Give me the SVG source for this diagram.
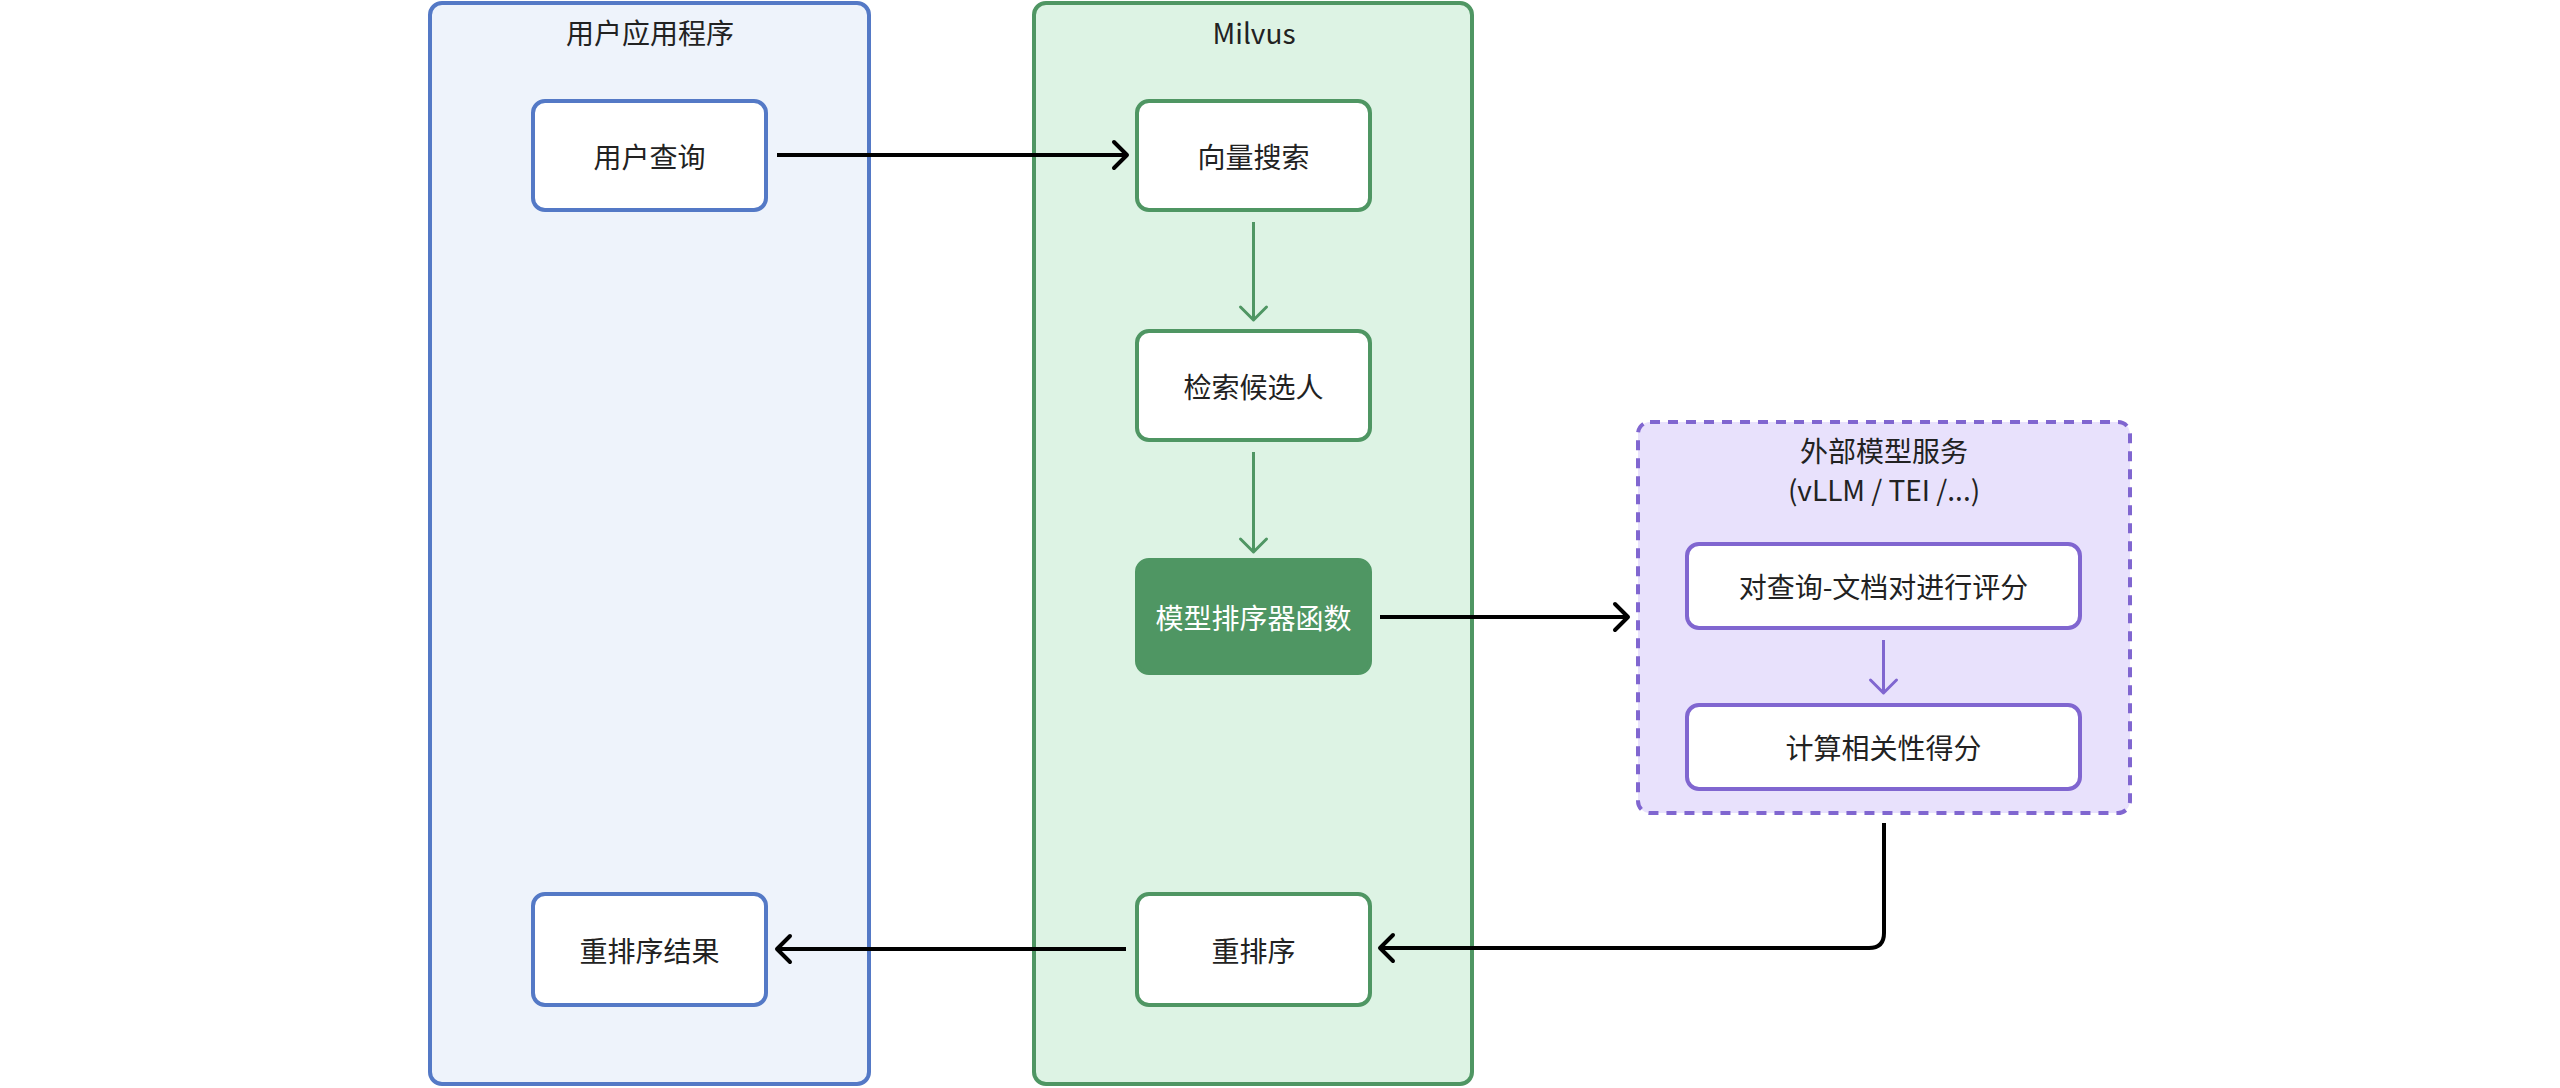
<svg xmlns="http://www.w3.org/2000/svg" width="2560" height="1088" viewBox="0 0 2560 1088">
<style>
text{font-family:"Noto Sans CJK SC","Noto Sans",sans-serif;font-size:28px;fill:#222;text-anchor:middle;dominant-baseline:central}
.cb{fill:#eef3fb;stroke:#5479c6;stroke-width:4}
.cg{fill:#ddf3e4;stroke:#4f9663;stroke-width:4}
.cp{fill:#e8e1fc;stroke:#8066d0;stroke-width:4;stroke-dasharray:10 8}
.nb{fill:#fff;stroke:#5479c6;stroke-width:4}
.ng{fill:#fff;stroke:#4f9663;stroke-width:4}
.nf{fill:#4f9663;stroke:#4f9663;stroke-width:4}
.np{fill:#fff;stroke:#8066d0;stroke-width:4}
.e{fill:none;stroke-linejoin:round}
.k{stroke:#000;stroke-width:4}
.g{stroke:#4f9663;stroke-width:3}
.p{stroke:#8066d0;stroke-width:3}
.w{fill:#fff}
</style>
<defs>
<marker id="ak" markerUnits="userSpaceOnUse" viewBox="-20 -18 24 36" refX="0" refY="0" markerWidth="24" markerHeight="36" orient="auto" overflow="visible"><path d="M-13,-13 L0,0 L-13,13" fill="none" stroke="#000" stroke-width="4" stroke-linecap="round" stroke-linejoin="round"/></marker>
<marker id="ag" markerUnits="userSpaceOnUse" viewBox="-20 -18 24 36" refX="0" refY="0" markerWidth="24" markerHeight="36" orient="auto" overflow="visible"><path d="M-13,-13 L0,0 L-13,13" fill="none" stroke="#4f9663" stroke-width="3" stroke-linecap="round" stroke-linejoin="round"/></marker>
<marker id="ap" markerUnits="userSpaceOnUse" viewBox="-20 -18 24 36" refX="0" refY="0" markerWidth="24" markerHeight="36" orient="auto" overflow="visible"><path d="M-13,-13 L0,0 L-13,13" fill="none" stroke="#8066d0" stroke-width="3" stroke-linecap="round" stroke-linejoin="round"/></marker>
</defs>
<rect width="2560" height="1088" fill="#fff"/>
<g id="app">
<rect class="cb" x="430" y="3" width="439" height="1081" rx="12"/>
<text x="650" y="32">用户应用程序</text>
</g>
<g id="milvus">
<rect class="cg" x="1034" y="3" width="438" height="1081" rx="12"/>
<text x="1254" y="32">Milvus</text>
</g>
<g id="external">
<rect class="cp" x="1638" y="422" width="492" height="391" rx="12"/>
<text x="1884" y="450">外部模型服务</text>
<text x="1884" y="489">(vLLM / TEI /...)</text>
</g>
<g id="userQuery"><rect class="nb" x="533" y="101" width="233" height="109" rx="12"/><text x="649.5" y="155.5">用户查询</text></g>
<g id="vectorSearch"><rect class="ng" x="1137" y="101" width="233" height="109" rx="12"/><text x="1253.5" y="155.5">向量搜索</text></g>
<g id="candidates"><rect class="ng" x="1137" y="331" width="233" height="109" rx="12"/><text x="1253.5" y="385.5">检索候选人</text></g>
<g id="rankerFn"><rect class="nf" x="1137" y="560" width="233" height="113" rx="12"/><text class="w" x="1253.5" y="616.5">模型排序器函数</text></g>
<g id="rerank"><rect class="ng" x="1137" y="894" width="233" height="111" rx="12"/><text x="1253.5" y="949.5">重排序</text></g>
<g id="rerankResult"><rect class="nb" x="533" y="894" width="233" height="111" rx="12"/><text x="649.5" y="949.5">重排序结果</text></g>
<g id="scorePairs"><rect class="np" x="1687" y="544" width="393" height="84" rx="12"/><text x="1883.5" y="586">对查询-文档对进行评分</text></g>
<g id="computeScore"><rect class="np" x="1687" y="705" width="393" height="84" rx="12"/><text x="1883.5" y="747">计算相关性得分</text></g>
<g id="connectors">
<path class="e k" d="M777,155 H1127" marker-end="url(#ak)"/>
<path class="e g" d="M1253.5,222 V320" marker-end="url(#ag)"/>
<path class="e g" d="M1253.5,452 V552" marker-end="url(#ag)"/>
<path class="e k" d="M1380,617 H1628" marker-end="url(#ak)"/>
<path class="e p" d="M1883.5,640 V693" marker-end="url(#ap)"/>
<path class="e k" d="M1884,823 V933 Q1884,948 1869,948 H1380" marker-end="url(#ak)"/>
<path class="e k" d="M1126,949 H777" marker-end="url(#ak)"/>
</g>
</svg>
